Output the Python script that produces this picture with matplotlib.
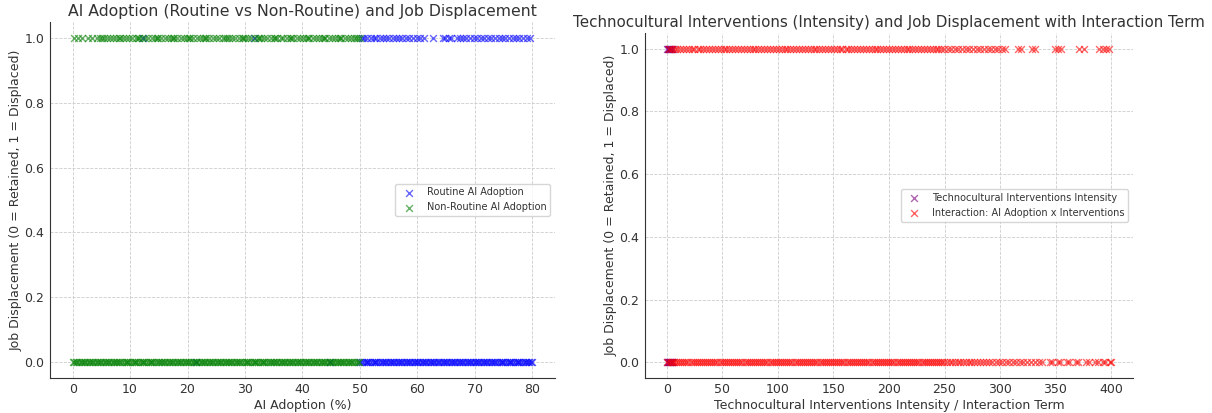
import matplotlib.pyplot as plt

plt.rcParams["font.family"] = "DejaVu Sans"
plt.rcParams["text.color"] = "#333333"
plt.rcParams["axes.labelcolor"] = "#333333"
plt.rcParams["xtick.color"] = "#333333"
plt.rcParams["ytick.color"] = "#333333"
plt.rcParams["axes.edgecolor"] = "#333333"

# ---- left panel: AI adoption (%) by outcome ----
routine_displaced = [
    12.3, 31.6, 50.3, 50.8, 51.2, 51.9, 52.4, 52.8, 53.5, 54.1, 54.6, 55.0,
    55.7, 56.3, 56.9, 57.4, 58.0, 58.6, 59.2, 59.9, 60.5, 61.1, 62.7, 64.4,
    64.9, 65.5, 65.9, 66.9, 67.4, 68.0, 68.5, 69.2, 69.8, 70.4, 71.1, 71.7,
    72.3, 72.9, 73.6, 74.2, 74.8, 75.3, 75.9, 76.6, 77.2, 77.8, 78.4, 79.1,
    79.7,
]
routine_retained = [
    21.4, 44.8,
    50.1, 50.4, 50.7, 51.0, 51.2, 51.5, 51.8, 52.1, 52.4, 52.6, 52.9, 53.2,
    53.5, 53.8, 54.0, 54.3, 54.6, 54.9, 55.2, 55.4, 55.7, 56.0, 56.3, 56.6,
    56.8, 57.1, 57.4, 57.7, 58.0, 58.2, 58.5, 58.8, 59.1, 59.4, 59.6, 59.9,
    60.2, 60.5, 60.8, 61.0, 61.3, 61.6, 61.9, 62.2, 62.4, 62.7, 63.0, 63.3,
    63.6, 63.8, 64.1, 64.4, 64.7, 65.0, 65.2, 65.5, 65.8, 66.1, 66.4, 66.6,
    66.9, 67.2, 67.5, 67.8, 68.0, 68.3, 68.6, 68.9, 69.2, 69.4, 69.7, 70.0,
    70.3, 70.6, 70.8, 71.1, 71.4, 71.7, 72.0, 72.2, 72.5, 72.8, 73.1, 73.4,
    73.6, 73.9, 74.2, 74.5, 74.8, 75.0, 75.3, 75.6, 75.9, 76.2, 76.4, 76.7,
    77.0, 77.3, 77.6, 77.8, 78.1, 78.4, 78.7, 79.0, 79.2, 79.5, 79.8, 80.0,
]
nonroutine_displaced = [
    0.2, 0.9, 1.7, 2.6, 3.4, 4.3, 4.8, 5.1, 5.4, 5.9, 6.5, 7.0, 7.6, 8.0,
    8.2, 8.7, 9.3, 9.8, 10.4, 11.0, 11.3, 11.5, 12.1, 12.6, 13.2, 13.8,
    14.3, 14.6, 14.9, 15.4, 16.0, 16.6, 17.1, 17.4, 17.7, 18.2, 18.8, 19.4,
    19.9, 20.2, 20.5, 21.0, 21.6, 22.2, 22.7, 23.0, 23.3, 23.8, 24.4, 25.0,
    25.5, 26.1, 26.6, 26.9, 27.2, 27.8, 28.3, 28.9, 29.4, 29.7, 30.0, 30.6,
    31.1, 31.7, 32.2, 32.5, 32.8, 33.4, 33.9, 34.5, 35.0, 35.3, 35.6, 36.2,
    36.7, 37.3, 37.8, 38.1, 38.4, 39.0, 39.5, 40.1, 40.6, 41.0, 41.2, 41.8,
    42.3, 42.9, 43.4, 43.7, 44.0, 44.6, 45.1, 45.7, 46.2, 46.5, 46.8, 47.4,
    47.9, 48.5, 49.0, 49.3, 49.6, 50.0,
]
nonroutine_retained = [
    0.0, 0.3, 0.5, 0.8, 1.1, 1.4, 1.7, 1.9, 2.2, 2.5, 2.8, 3.1, 3.3, 3.6,
    3.9, 4.2, 4.4, 4.7, 5.0, 5.3, 5.6, 5.8, 6.1, 6.4, 6.7, 7.0, 7.2, 7.5,
    7.8, 8.1, 8.3, 8.6, 8.9, 9.2, 9.5, 9.7, 10.0, 10.3, 10.6, 10.9, 11.1,
    11.4, 11.7, 12.0, 12.2, 12.5, 12.8, 13.1, 13.4, 13.6, 13.9, 14.2, 14.5,
    14.8, 15.0, 15.3, 15.6, 15.9, 16.1, 16.4, 16.7, 17.0, 17.3, 17.5, 17.8,
    18.1, 18.4, 18.7, 18.9, 19.2, 19.5, 19.8, 20.0, 20.3, 20.6, 20.9, 21.2,
    21.4, 21.7, 22.0, 22.3, 22.6, 22.8, 23.1, 23.4, 23.7, 23.9, 24.2, 24.5,
    24.8, 25.1, 25.3, 25.6, 25.9, 26.2, 26.5, 26.7, 27.0, 27.3, 27.6, 27.8,
    28.1, 28.4, 28.7, 29.0, 29.2, 29.5, 29.8, 30.1, 30.4, 30.6, 30.9, 31.2,
    31.5, 31.7, 32.0, 32.3, 32.6, 32.9, 33.1, 33.4, 33.7, 34.0, 34.3, 34.5,
    34.8, 35.1, 35.4, 35.6, 35.9, 36.2, 36.5, 36.8, 37.0, 37.3, 37.6, 37.9,
    38.2, 38.4, 38.7, 39.0, 39.3, 39.5, 39.8, 40.1, 40.4, 40.7, 40.9, 41.2,
    41.5, 41.8, 42.1, 42.3, 42.6, 42.9, 43.2, 43.4, 43.7, 44.0, 44.3, 44.6,
    44.8, 45.1, 45.4, 45.7, 46.0, 46.2, 46.5, 46.8, 47.1, 47.3, 47.6, 47.9,
    48.2, 48.5, 48.7, 49.0, 49.3, 49.6, 49.9,
]

# ---- right panel: interventions intensity and interaction term ----
intensity_displaced = [0.1, 0.6, 1.1, 1.5, 2.0, 2.6, 3.1, 3.5, 4.0, 4.6, 5.0]
intensity_retained = [0.0, 0.5, 0.9, 1.4, 1.9, 2.4, 2.8, 3.3, 3.8, 4.3, 4.7, 5.0]
interaction_displaced = [
    1.5, 4.2, 6.8, 9.1, 11.9, 14.3, 17.0, 19.6, 22.2, 24.7, 27.5, 30.1,
    32.6, 35.3, 37.9, 40.4, 43.2, 45.7, 48.3, 51.0, 53.6, 56.1, 58.9, 61.4,
    64.0, 66.7, 69.2, 71.8, 74.5, 77.1, 79.6, 82.4, 84.9, 87.5, 90.2, 92.8,
    95.3, 98.1, 100.6, 103.2, 105.9, 108.5, 111.0, 113.8, 116.3, 118.9,
    121.6, 124.2, 126.7, 129.5, 132.0, 134.6, 137.3, 139.9, 142.4, 145.2,
    147.7, 150.3, 153.0, 155.6, 158.1, 160.9, 163.4, 166.0, 168.7, 171.3,
    173.8, 176.6, 179.1, 181.7, 184.4, 187.0, 189.5, 192.3, 194.8, 197.4,
    200.1, 202.7, 205.2, 208.0, 210.5, 213.1, 215.8, 218.4, 220.9, 223.7,
    226.2, 228.8, 231.5, 234.1, 236.6, 239.4, 241.9, 244.5, 247.2, 249.8,
    253.1, 256.0, 259.6, 262.4, 265.9, 269.3, 272.1, 275.8, 279.0, 282.4,
    285.7, 289.5, 292.2, 295.6, 298.4, 301.9, 304.6, 316.5, 318.9, 328.4,
    331.2, 349.8, 352.5, 354.6, 371.0, 375.3, 389.2, 392.6, 395.8, 398.0,
]
interaction_retained = [
    0.4, 2.3, 4.1, 6.2, 8.0, 9.9, 11.8, 13.7, 15.5, 17.4, 19.3, 21.2, 23.0,
    24.9, 26.8, 28.7, 30.5, 32.4, 34.3, 36.2, 38.0, 39.9, 41.8, 43.7, 45.5,
    47.4, 49.3, 51.2, 53.0, 54.9, 56.8, 58.7, 60.5, 62.4, 64.3, 66.2, 68.0,
    69.9, 71.8, 73.7, 75.5, 77.4, 79.3, 81.2, 83.0, 84.9, 86.8, 88.7, 90.5,
    92.4, 94.3, 96.2, 98.0, 99.9, 101.8, 103.7, 105.5, 107.4, 109.3, 111.2,
    113.0, 114.9, 116.8, 118.7, 120.5, 122.4, 124.3, 126.2, 128.0, 129.9,
    131.8, 133.7, 135.5, 137.4, 139.3, 141.2, 143.0, 144.9, 146.8, 148.7,
    150.5, 152.4, 154.3, 156.2, 158.0, 159.9, 161.8, 163.7, 165.5, 167.4,
    169.3, 171.2, 173.0, 174.9, 176.8, 178.7, 180.5, 182.4, 184.3, 186.2,
    188.0, 189.9, 191.8, 193.7, 195.5, 197.4, 199.3, 201.2, 203.0, 204.9,
    206.8, 208.7, 210.5, 212.4, 214.3, 216.2, 218.0, 219.9, 221.8, 223.7,
    225.5, 227.4, 229.3, 231.2, 233.0, 234.9, 236.8, 238.7, 240.5, 242.4,
    244.3, 246.2, 248.0, 249.9, 252.1, 254.6, 257.0, 259.3, 261.9, 264.2,
    266.8, 269.1, 271.7, 274.0, 276.6, 279.3, 281.9, 284.8, 287.4, 290.3,
    293.1, 296.2, 299.0, 302.1, 305.3, 308.2, 311.6, 314.5, 317.9, 321.0,
    324.6, 327.8, 331.5, 334.7, 337.4, 345.1, 346.9, 352.0, 354.1, 360.2,
    361.8, 368.5, 370.2, 377.8, 379.9, 385.9, 388.1, 393.2, 395.0, 399.1,
    400.0,
]

fig = plt.figure(figsize=(12.12, 4.13), dpi=100)
ax1 = fig.add_axes([0.041, 0.085, 0.417, 0.862])
ax2 = fig.add_axes([0.532, 0.085, 0.403, 0.835])

ms = 24
ax1.scatter(routine_displaced, [1] * len(routine_displaced), marker="x", s=ms,
            color="blue", alpha=0.6, linewidths=1, label="Routine AI Adoption")
ax1.scatter(routine_retained, [0] * len(routine_retained), marker="x", s=ms,
            color="blue", alpha=0.6, linewidths=1)
ax1.scatter(nonroutine_displaced, [1] * len(nonroutine_displaced), marker="x", s=ms,
            color="green", alpha=0.6, linewidths=1, label="Non-Routine AI Adoption")
ax1.scatter(nonroutine_retained, [0] * len(nonroutine_retained), marker="x", s=ms,
            color="green", alpha=0.6, linewidths=1)
ax1.set_title("AI Adoption (Routine vs Non-Routine) and Job Displacement",
              fontsize=11.3, pad=4)
ax1.set_xlabel("AI Adoption (%)", fontsize=9, labelpad=2)
ax1.set_ylabel("Job Displacement (0 = Retained, 1 = Displaced)", fontsize=9, labelpad=1)
ax1.legend(loc="center right", fontsize=7, frameon=True)

ax2.scatter(intensity_displaced, [1] * len(intensity_displaced), marker="x", s=ms,
            color="purple", alpha=0.6, linewidths=1,
            label="Technocultural Interventions Intensity")
ax2.scatter(intensity_retained, [0] * len(intensity_retained), marker="x", s=ms,
            color="purple", alpha=0.6, linewidths=1)
ax2.scatter(interaction_displaced, [1] * len(interaction_displaced), marker="x", s=ms,
            color="red", alpha=0.6, linewidths=1,
            label="Interaction: AI Adoption x Interventions")
ax2.scatter(interaction_retained, [0] * len(interaction_retained), marker="x", s=ms,
            color="red", alpha=0.6, linewidths=1)
ax2.set_title("Technocultural Interventions (Intensity) and Job Displacement with Interaction Term",
              fontsize=10.9, pad=4)
ax2.set_xlabel("Technocultural Interventions Intensity / Interaction Term",
               fontsize=9, labelpad=2)
ax2.set_ylabel("Job Displacement (0 = Retained, 1 = Displaced)", fontsize=9, labelpad=1)
ax2.legend(loc="center right", fontsize=7, frameon=True)

for ax in (ax1, ax2):
    ax.grid(True, linestyle="--", linewidth=0.6, color="#cccccc")
    ax.set_axisbelow(True)
    ax.spines[["top", "right"]].set_visible(False)
    ax.tick_params(labelsize=9, length=0, pad=4)
    ax.set_yticks([0.0, 0.2, 0.4, 0.6, 0.8, 1.0])

fig.savefig("out.png", dpi=100)
